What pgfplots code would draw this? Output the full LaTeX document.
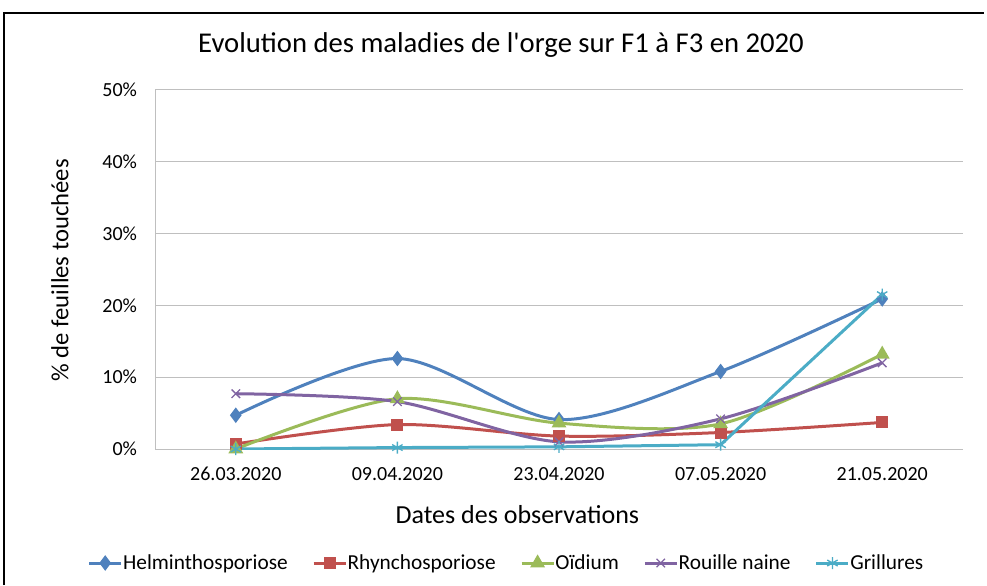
\documentclass[border=0pt]{standalone}
\usepackage{fontspec}
\setmainfont{Carlito}
\usepackage{pgfplots}
\pgfplotsset{compat=1.18}

\definecolor{cHelm}{HTML}{4F81BD}
\definecolor{cRhyn}{HTML}{C0504D}
\definecolor{cOid}{HTML}{9BBB59}
\definecolor{cRou}{HTML}{8064A2}
\definecolor{cGri}{HTML}{4BACC6}
\definecolor{gridc}{HTML}{BFBFBF}

\begin{document}
\begin{tikzpicture}
% picture = 987 x 585 px, 1 px = 0.75pt
\path[use as bounding box] (0,0) rectangle (740.25pt,438.75pt);
% chart frame (top and left edges visible)
\draw[line width=1.5pt] (3pt,0) -- (3pt,429pt) -- (738pt,429pt);

\node[font=\fontsize{21.5}{24}\selectfont\addfontfeature{Ligatures=TeXOff}] at (375.75pt,405pt) {Evolution des maladies de l'orge sur F1 à F3 en 2020};
\node[font=\fontsize{18.5}{21}\selectfont,rotate=90] at (45pt,236pt) {\% de feuilles touchées};
\node[font=\fontsize{19.5}{22}\selectfont] at (388pt,52.5pt) {Dates des observations};

\begin{axis}[
  at={(116.25pt,102pt)}, anchor=south west,
  scale only axis, width=606pt, height=269.25pt,
  xmin=-0.5, xmax=4.5, ymin=0, ymax=50,
  xtick={0,1,2,3,4},
  xticklabels={26.03.2020,09.04.2020,23.04.2020,07.05.2020,21.05.2020},
  ytick={0,10,20,30,40,50},
  yticklabel={\pgfmathprintnumber{\tick}\%},
  /pgf/number format/assume math mode=true,
  tick label style={font=\fontsize{15}{17}\selectfont},
  xticklabel style={yshift=-10pt},
  yticklabel style={xshift=-10pt},
  major tick length=0pt,
  axis x line*=bottom, axis y line*=left,
  axis line style={gridc, line width=0.75pt, -},
  ymajorgrids, grid style={gridc, line width=0.75pt},
  every axis plot/.append style={line width=2.25pt, mark options={solid}},
  legend columns=5,
  legend style={at={(0.434,-0.3176)}, anchor=center, draw=none,
    font=\fontsize{16}{18}\selectfont,
    nodes={inner sep=0.3pt},
    /tikz/every even column/.append style={column sep=18pt}},
  legend image code/.code={\draw[mark repeat=2,mark phase=2] plot coordinates {(0pt,0pt) (12pt,0pt) (24pt,0pt)};},
]
\addplot[smooth, color=cHelm, mark=diamond*, mark size=4pt] coordinates {(0,4.7) (1,12.6) (2,4.1) (3,10.8) (4,20.9)};
\addplot[smooth, color=cRhyn, mark=square*, mark size=3.4pt] coordinates {(0,0.7) (1,3.4) (2,1.8) (3,2.3) (4,3.7)};
\addplot[smooth, color=cOid, mark=triangle*, mark size=4.2pt] coordinates {(0,0) (1,7.0) (2,3.6) (3,3.5) (4,13.2)};
\addplot[smooth, color=cRou, mark=x, mark size=4.5pt, mark options={line width=1pt}] coordinates {(0,7.7) (1,6.6) (2,1.0) (3,4.2) (4,12.0)};
\addplot[sharp plot, color=cGri, mark=asterisk, mark size=4.5pt, mark options={line width=1pt}] coordinates {(0,0) (1,0.2) (2,0.3) (3,0.6) (4,21.5)};
\legend{Helminthosporiose, Rhynchosporiose, Oïdium, Rouille naine, Grillures}
\end{axis}
\end{tikzpicture}
\end{document}
